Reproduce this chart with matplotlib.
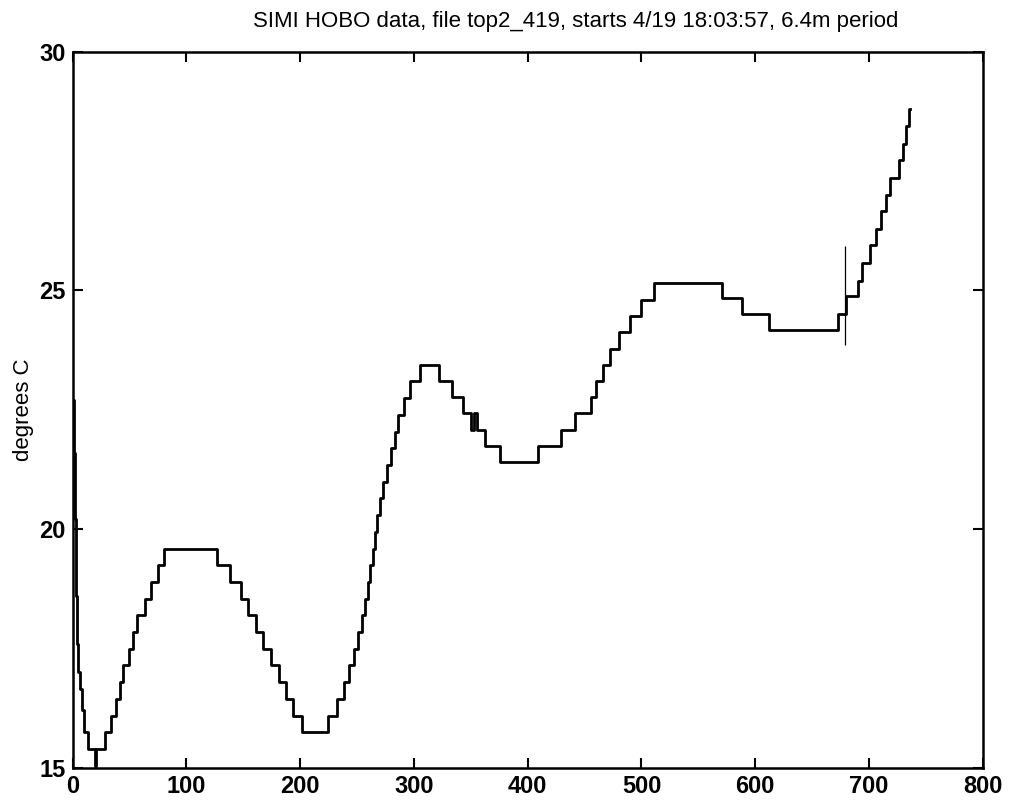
import matplotlib
matplotlib.use('Agg')
import matplotlib.pyplot as plt

plt.rcParams['font.family'] = ['Liberation Sans', 'DejaVu Sans']

# step breakpoints (sample number, degrees C)
step_x = [0, 1, 2, 3, 4, 5, 6, 8, 10, 13,
          19.5, 20.5,
          28.1, 33.4, 37.8, 41.6, 44.5, 49.5, 52.7, 56.9, 63.6, 68.6, 74.7, 80.6,
          126.6, 138.6, 147.7, 154.5, 160.9, 167.6, 174.3, 181.1, 187.3, 193.7, 201.9,
          224.4, 232.4, 238.2, 242.9, 247.0, 250.8, 254.1, 257.0, 259.3, 261.7, 264.0,
          266.1, 267.5, 269.9, 272.8, 276.3, 280.2, 283.1, 285.9, 291.2, 296.3, 305.1,
          322.2, 333.3, 342.8, 350.5, 352.7, 355.6, 362.2, 375.4,
          409.2, 429.0, 441.6, 456.0, 460.4, 466.2, 472.1, 480.0, 489.7, 500.0, 510.8,
          570.6, 588.5, 612.1,
          673.1, 680.2, 690.4, 694.2, 700.7, 706.5, 710.9, 715.3, 718.8, 726.4, 729.9,
          732.3, 735.2, 736.4]
step_temp = [22.7, 21.6, 20.2, 18.6, 17.6, 17.0, 16.64, 16.2, 15.74, 15.39,
             15.03, 15.39,
             15.74, 16.09, 16.44, 16.79, 17.14, 17.49, 17.84, 18.19, 18.54, 18.89, 19.24, 19.59,
             19.24, 18.89, 18.54, 18.19, 17.84, 17.49, 17.14, 16.79, 16.44, 16.09, 15.74,
             16.09, 16.44, 16.79, 17.14, 17.49, 17.84, 18.19, 18.54, 18.89, 19.24, 19.59,
             19.94, 20.29, 20.64, 20.99, 21.34, 21.69, 22.04, 22.39, 22.74, 23.09, 23.44,
             23.10, 22.76, 22.42, 22.08, 22.42, 22.08, 21.74, 21.40,
             21.74, 22.08, 22.42, 22.76, 23.10, 23.44, 23.78, 24.12, 24.46, 24.80, 25.16,
             24.85, 24.51, 24.17,
             24.51, 24.88, 25.19, 25.57, 25.95, 26.28, 26.66, 26.99, 27.36, 27.74, 28.07,
             28.45, 28.80, 28.80]

# glitch drawn as a thin vertical line
spike_x = 678.5
spike_lo = 23.86
spike_hi = 25.92

xticks = [0, 100, 200, 300, 400, 500, 600, 700, 800]
yticks = [15, 20, 25, 30]

fig = plt.figure(figsize=(10.10, 8.08), dpi=100)
ax = fig.add_axes([0.072, 0.05, 0.901, 0.886])

ax.plot(step_x, step_temp, color='black', linewidth=2.0, drawstyle='steps-post')
ax.vlines(spike_x, spike_lo, spike_hi, color='black', linewidth=0.9)

ax.set_xlim(0, 800)
ax.set_ylim(15, 30)
ax.set_xticks(xticks)
ax.set_yticks(yticks)
ax.tick_params(direction='in', length=7, width=1.5, top=True, right=True,
               labelsize=17, pad=5)
for lbl in ax.get_xticklabels() + ax.get_yticklabels():
    lbl.set_fontweight('bold')
for s in ax.spines.values():
    s.set_linewidth(1.8)

ax.set_ylabel('degrees C', fontsize=16, labelpad=4)
ax.set_title('SIMI HOBO data, file top2_419, starts 4/19 18:03:57, 6.4m period',
             fontsize=16, pad=18, x=0.553)

fig.savefig('out.png', dpi=100)
